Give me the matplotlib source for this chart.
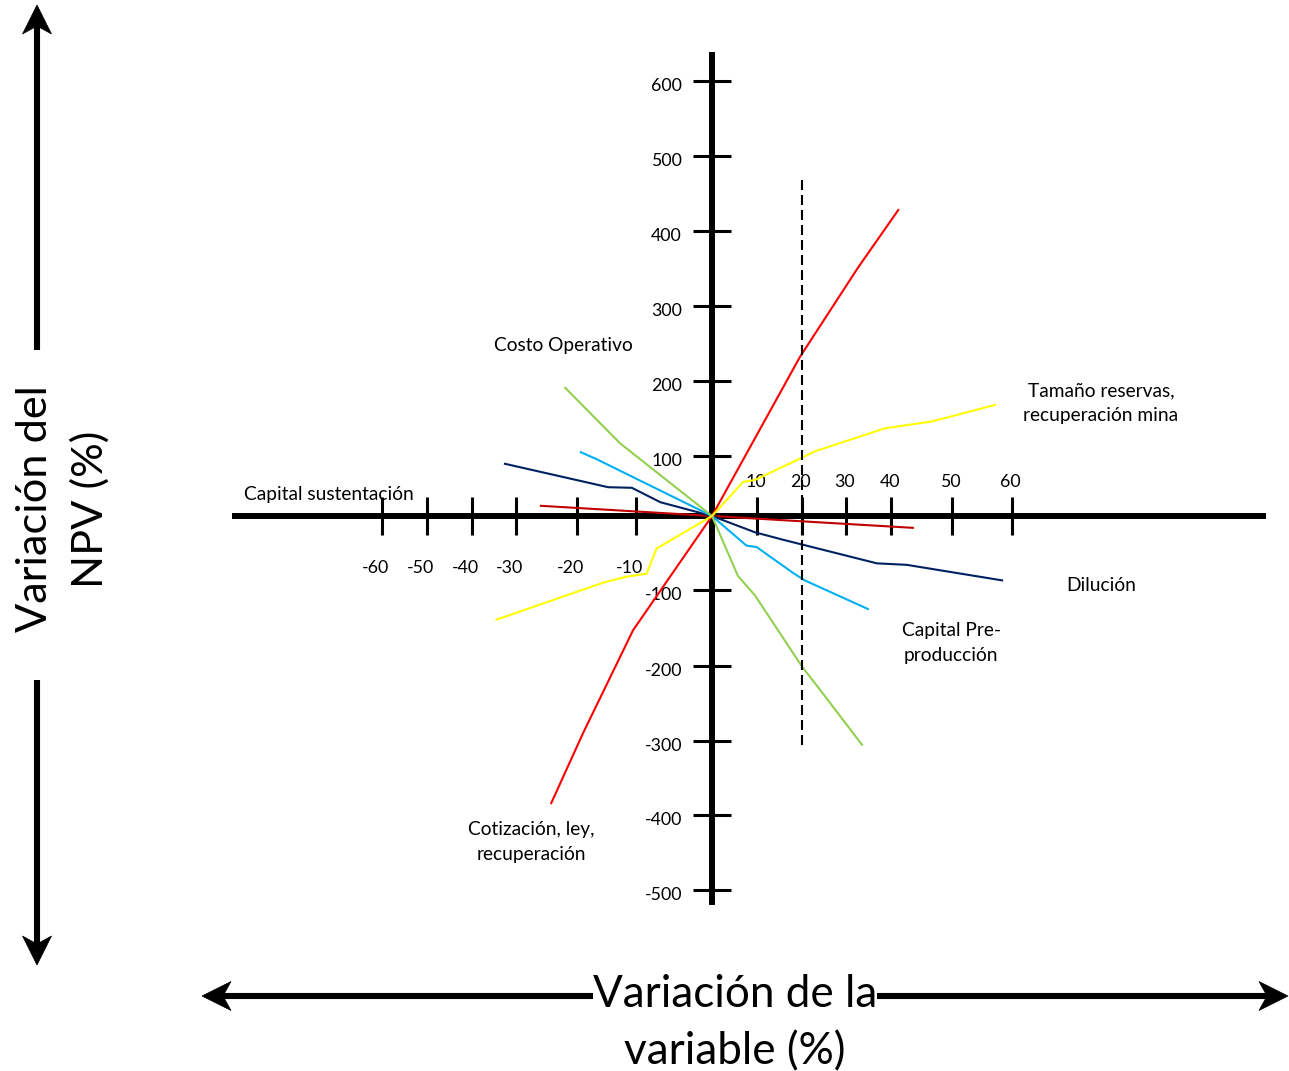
import numpy as np
import matplotlib
matplotlib.use("Agg")
import matplotlib.pyplot as plt
from matplotlib.patches import Polygon

# ---------------------------------------------------------------------------
# Sensitivity of the project NPV (%) to a variation of each input (%)
# ---------------------------------------------------------------------------
cotizacion_x = [-24.2, -18.9, -10.5, 0, 19.6, 32.7, 41.2]
cotizacion_y = [-384, -289, -153, 0, 232, 351, 428]

reservas_x = [-34.4, -15.5, -11.6, -8.6, -7.3, 0, 7.0, 9.6, 20.3, 22.9, 38.7, 46.7, 57.2]
reservas_y = [-139, -90, -82, -78, -44, 0, 57, 60, 98, 106, 137, 146, 168]

costo_op_x = [-21.9, -12.7, 0, 5.8, 9.6, 20.1, 24.2, 33.6]
costo_op_y = [191, 117, 0, -81, -107, -201, -232, -305]

capital_pre_x = [-19.3, -16.7, 0, 7.7, 10.0, 13.0, 18.1, 20.7, 34.9]
capital_pre_y = [105, 95, 0, -40, -42, -55, -77, -87, -125]

dilucion_x = [-32.5, -14.7, -10.7, -6.8, 0, 9.6, 15.8, 36.9, 42.6, 58.4]
dilucion_y = [87, 48, 47, 23, 0, -22, -32, -64, -66, -87]

capital_sus_x = [-25.9, 0, 43.6]
capital_sus_y = [17, 0, -16]

x_ticks = [-60, -50, -40, -30, -20, -10, 10, 20, 30, 40, 50, 60]
y_ticks = [600, 500, 400, 300, 200, 100, -100, -200, -300, -400, -500]

corte_x = 20          # reference variation marked with a dashed line
corte_y = [-305, 470]

labels = {
    "costo": ["Costo Operativo"],
    "reservas": ["Tamaño reservas,", "recuperación mina"],
    "sustentacion": ["Capital sustentación"],
    "dilucion": ["Dilución"],
    "pre": ["Capital Pre-", "producción"],
    "cotizacion": ["Cotización, ley,", "recuperación"],
}

# ---------------------------------------------------------------------------
# Layout: the hand-drawn rulers are not evenly spaced, so each axis uses a
# piecewise-linear scale through the positions of its tick marks (pixels).
# ---------------------------------------------------------------------------
W, H = 1289, 1071
X_RULER_VAL = [-60, -50, -40, -30, -20, -10, 0, 10, 20, 30, 40, 50, 60]
X_RULER_PX = [381.7, 426.7, 471.7, 516, 576.7, 636, 712, 756.7, 801.7, 845.7, 891, 951.7, 1011.7]
Y_RULER_VAL = [-500, -400, -300, -200, -100, 0, 100, 200, 300, 400, 500, 600]
Y_RULER_PX = [890, 815, 741, 666, 590, 516, 456, 381, 306, 231, 156, 81]

FONT = ["Lato", "DejaVu Sans"]


def piecewise(vals, pos):
    vals = np.asarray(vals, float)
    pos = np.asarray(pos, float)

    def build(a, b):
        s0 = (b[1] - b[0]) / (a[1] - a[0])
        s1 = (b[-1] - b[-2]) / (a[-1] - a[-2])

        def f(v):
            v = np.asarray(v, float)
            out = np.interp(v, a, b)
            out = np.where(v < a[0], b[0] + (v - a[0]) * s0, out)
            out = np.where(v > a[-1], b[-1] + (v - a[-1]) * s1, out)
            return out
        return f

    return build(vals, pos), build(pos, vals)


fx, ix = piecewise(X_RULER_VAL, X_RULER_PX)
fy, iy = piecewise(Y_RULER_VAL, H - np.asarray(Y_RULER_PX))

fig = plt.figure(figsize=(W / 100, H / 100), dpi=100)
fig.patch.set_facecolor("white")
renderer = fig.canvas.get_renderer()


def fitted_size(text, target_px):
    t = fig.text(0, 0, text, fontsize=20, family=FONT)
    w = t.get_window_extent(renderer).width
    t.remove()
    return 20 * target_px / w


fs_tick = fitted_size("600", 31)
fs_note = fitted_size("Costo Operativo", 139)
fs_title = fitted_size("Variación de la", 284)
fs_ytitle = fitted_size("Variación del", 247)

ax = fig.add_axes([0, 0, 1, 1])
ax.set_xscale("function", functions=(fx, ix))
ax.set_yscale("function", functions=(fy, iy))
ax.set_xlim(float(ix(0)), float(ix(W)))
ax.set_ylim(float(iy(0)), float(iy(H)))
ax.axis("off")

# main rulers
ax.axhline(0, xmin=232 / W, xmax=1266 / W, color="black", lw=4.3,
           solid_capstyle="butt", zorder=1)
ax.axvline(0, ymin=(H - 905) / H, ymax=(H - 51.7) / H, color="black", lw=4.3,
           solid_capstyle="butt", zorder=1)
ax.plot(x_ticks, np.zeros(len(x_ticks)), ls="none", marker="|", ms=27,
        mew=2.2, color="black", zorder=1)
ax.plot(np.zeros(len(y_ticks)), y_ticks, ls="none", marker="_", ms=27,
        mew=2.2, color="black", zorder=1)

for v in x_ticks:
    if v < 0:
        ax.annotate(str(v), (v, 0), xytext=(-6, -57), textcoords="offset pixels",
                    ha="center", va="baseline", fontsize=fs_tick, family=FONT)
    else:
        ax.annotate(str(v), (v, 0), xytext=(-1, 29), textcoords="offset pixels",
                    ha="center", va="baseline", fontsize=fs_tick, family=FONT)
for v in y_ticks:
    ax.annotate(str(v), (0, v), xytext=(-30, -10), textcoords="offset pixels",
                ha="right", va="baseline", fontsize=fs_tick, family=FONT)

# sensitivity curves
lw = 1.5
ax.plot(capital_sus_x, capital_sus_y, color="#C00000", lw=lw, zorder=3)
ax.plot(dilucion_x, dilucion_y, color="#002060", lw=lw, zorder=3)
ax.plot(capital_pre_x, capital_pre_y, color="#00B0F0", lw=lw, zorder=3)
ax.plot(costo_op_x, costo_op_y, color="#92D050", lw=lw, zorder=3)
ax.plot(cotizacion_x, cotizacion_y, color="#FF0000", lw=lw, zorder=3)
ax.plot(reservas_x, reservas_y, color="#FFFF00", lw=lw, zorder=3)

ax.vlines(corte_x, corte_y[0], corte_y[1], colors="black", lw=1.5,
          linestyles=(0, (4.8, 2.4)), zorder=4)

# overlay in pixel units for the annotations and the big arrows
ov = fig.add_axes([0, 0, 1, 1], facecolor="none")
ov.set_xlim(0, W)
ov.set_ylim(H, 0)
ov.axis("off")

note_pos = {
    "costo": (563, [351]),
    "reservas": (1101, [396, 421]),
    "sustentacion": (329, [500]),
    "dilucion": (1101, [591]),
    "pre": (951, [636, 661]),
    "cotizacion": (531, [835, 860]),
}
for key, (cx, baselines) in note_pos.items():
    for line, by in zip(labels[key], baselines):
        ov.text(cx, by, line, ha="center", va="baseline", fontsize=fs_note,
                family=FONT, zorder=2)


def arrow(tail, tip, half=14.5, length=29, notch=8):
    tail = np.asarray(tail, float)
    tip = np.asarray(tip, float)
    d = (tip - tail) / np.hypot(*(tip - tail))
    p = np.array([-d[1], d[0]])
    base = tip - d * length
    inner = tip - d * (length - notch)
    ov.plot([tail[0], inner[0]], [tail[1], inner[1]], color="black", lw=4.4,
            solid_capstyle="butt")
    ov.add_patch(Polygon([tip, base + p * half, inner, base - p * half],
                         closed=True, facecolor="black", edgecolor="black", lw=0.5))


arrow((37, 350), (37, 5))
arrow((37, 680), (37, 965))
arrow((593, 996), (202, 996))
arrow((877, 996), (1288, 996))

ov.text(735, 1007, "Variación de la", ha="center", va="baseline",
        fontsize=fs_title, family=FONT)
ov.text(735, 1064, "variable (%)", ha="center", va="baseline",
        fontsize=fs_title, family=FONT)
ov.text(47, 509, "Variación del", rotation=90, rotation_mode="anchor",
        ha="center", va="baseline", fontsize=fs_ytitle, family=FONT)
ov.text(103, 509, "NPV (%)", rotation=90, rotation_mode="anchor",
        ha="center", va="baseline", fontsize=fs_ytitle, family=FONT)

fig.savefig("out.png", dpi=100, facecolor="white")
